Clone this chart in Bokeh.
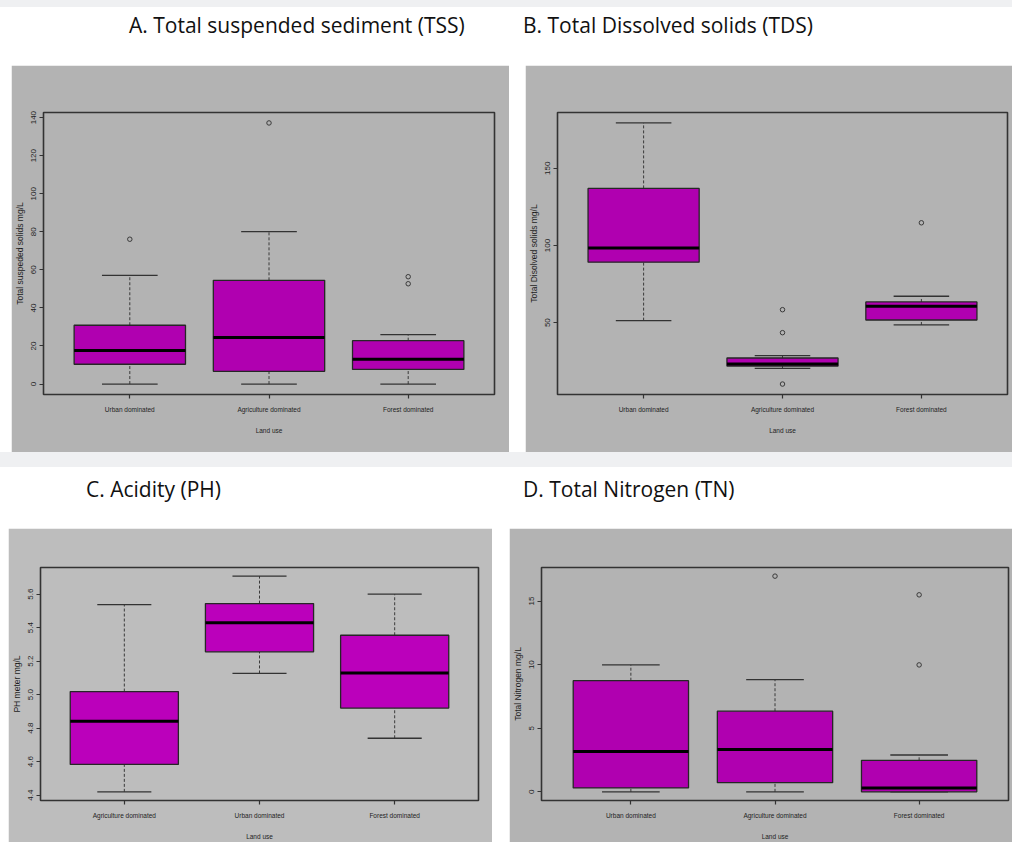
from bokeh.plotting import figure
from bokeh.models import Range1d, FixedTicker, Div, Spacer, PrintfTickFormatter
from bokeh.layouts import column, row
from bokeh.embed import file_html
from bokeh.resources import INLINE

# ---------------- data ----------------
A_title = "A. Total suspended sediment (TSS)"
A_cats = ["Urban dominated", "Agriculture dominated", "Forest dominated"]
A_low = [0.0, 0.0, 0.0]
A_q1 = [10.4, 6.7, 7.7]
A_med = [17.6, 24.4, 13.0]
A_q3 = [30.9, 54.5, 22.8]
A_high = [57.1, 80.1, 26.0]
A_out_cat = ["Urban dominated", "Agriculture dominated", "Forest dominated", "Forest dominated"]
A_out_val = [76.1, 137.2, 56.4, 52.7]
A_yticks = [0, 20, 40, 60, 80, 100, 120, 140]
A_ylabel = "Total suspeded solids mg/L"

B_title = "B. Total Dissolved solids (TDS)"
B_cats = ["Urban dominated", "Agriculture dominated", "Forest dominated"]
B_low = [51.3, 20.3, 48.5]
B_q1 = [89.2, 21.9, 51.7]
B_med = [98.3, 23.2, 60.6]
B_q3 = [137.0, 27.1, 63.4]
B_high = [179.4, 28.6, 67.1]
B_out_cat = ["Agriculture dominated", "Agriculture dominated", "Agriculture dominated", "Forest dominated"]
B_out_val = [58.4, 43.5, 10.2, 114.7]
B_yticks = [50, 100, 150]
B_ylabel = "Total Disolved solids mg/L"

C_title = "C. Acidity (PH)"
C_cats = ["Agriculture dominated", "Urban dominated", "Forest dominated"]
C_low = [4.42, 5.127, 4.74]
C_q1 = [4.584, 5.256, 4.92]
C_med = [4.841, 5.43, 5.129]
C_q3 = [5.019, 5.544, 5.355]
C_high = [5.538, 5.708, 5.60]
C_out_cat = []
C_out_val = []
C_yticks = [4.4, 4.6, 4.8, 5.0, 5.2, 5.4, 5.6]
C_ylabel = "PH meter mg/L"

D_title = "D. Total Nitrogen (TN)"
D_cats = ["Urban dominated", "Agriculture dominated", "Forest dominated"]
D_low = [0.0, 0.0, 0.0]
D_q1 = [0.31, 0.72, 0.0]
D_med = [3.18, 3.34, 0.31]
D_q3 = [8.74, 6.34, 2.48]
D_high = [9.98, 8.82, 2.90]
D_out_cat = ["Agriculture dominated", "Forest dominated", "Forest dominated"]
D_out_val = [16.96, 15.49, 9.98]
D_yticks = [0, 5, 10, 15]
D_ylabel = "Total Nitrogen mg/L"

XLABEL = "Land use"

# ---------------- styles ----------------
DARK = "#262626"
FRAME = "#333333"
PAGE = "#eff0f2"
SANS = "Liberation Sans"


def panel(cats, low, q1, med, q3, high, out_cat, out_val, yticks, ylabel,
          w, h, bl, br, bt, bb, bg, fill, yfmt="%d"):
    n = len(cats)
    pos = list(range(1, n + 1))
    where = dict(zip(cats, pos))
    lo = min(low + out_val)
    hi = max(high + out_val)
    ypad = (hi - lo) * 0.04
    xpad = n * 0.04
    p = figure(width=w, height=h,
               x_range=Range1d(0.5 - xpad, n + 0.5 + xpad),
               y_range=Range1d(lo - ypad, hi + ypad),
               output_backend="svg", toolbar_location=None,
               min_border_left=bl, min_border_right=br,
               min_border_top=bt, min_border_bottom=bb)
    p.background_fill_color = bg
    p.border_fill_color = bg
    p.outline_line_color = FRAME
    p.outline_line_width = 1.6
    p.xgrid.visible = False
    p.ygrid.visible = False

    # whiskers
    p.segment(x0=pos, x1=pos, y0=q3, y1=high, line_color="#3a3a3a",
              line_width=1, line_dash="3 2")
    p.segment(x0=pos, x1=pos, y0=low, y1=q1, line_color="#3a3a3a",
              line_width=1, line_dash="3 2")
    # caps
    cx0 = [x - 0.2 for x in pos]
    cx1 = [x + 0.2 for x in pos]
    p.segment(x0=cx0, x1=cx1, y0=high, y1=high, line_color=FRAME, line_width=1.3)
    p.segment(x0=cx0, x1=cx1, y0=low, y1=low, line_color=FRAME, line_width=1.3)
    # boxes
    p.vbar(x=pos, width=0.8, bottom=q1, top=q3, fill_color=fill,
           line_color=DARK, line_width=1.3)
    # medians
    mx0 = [x - 0.4 for x in pos]
    mx1 = [x + 0.4 for x in pos]
    p.segment(x0=mx0, x1=mx1, y0=med, y1=med, line_color="#000000", line_width=3)
    # outliers
    if out_val:
        p.scatter(x=[where[c] for c in out_cat], y=out_val, marker="circle",
                  size=4.5, fill_color=None, line_color="#3a3a3a", line_width=1)

    for ax in (p.xaxis[0], p.yaxis[0]):
        ax.axis_line_color = None
        ax.major_tick_line_color = FRAME
        ax.major_tick_line_width = 1.2
        ax.major_tick_out = 4
        ax.major_tick_in = 0
        ax.minor_tick_line_color = None
        ax.major_label_text_color = "#1e1e1e"
        ax.axis_label_text_color = "#1e1e1e"
        ax.axis_label_text_font_style = "normal"

    xa = p.xaxis[0]
    xa.ticker = FixedTicker(ticks=pos)
    xa.major_label_overrides = {x: c for x, c in zip(pos, cats)}
    xa.major_label_text_font = SANS
    xa.major_label_text_font_size = "6.5px"
    xa.major_label_standoff = 7
    xa.axis_label = XLABEL
    xa.axis_label_text_font = SANS
    xa.axis_label_text_font_size = "6.5px"
    xa.axis_label_standoff = 11

    ya = p.yaxis[0]
    ya.ticker = FixedTicker(ticks=yticks)
    ya.formatter = PrintfTickFormatter(format=yfmt)
    ya.major_label_orientation = "vertical"
    ya.major_label_text_font = SANS
    ya.major_label_text_font_size = "8px"
    ya.major_label_standoff = 3
    ya.axis_label = ylabel
    ya.axis_label_text_font = SANS
    ya.axis_label_text_font_size = "8.5px"
    ya.axis_label_standoff = 4
    return p


pA = panel(A_cats, A_low, A_q1, A_med, A_q3, A_high, A_out_cat, A_out_val,
           A_yticks, A_ylabel, 498, 387, 29, 15, 47, 58, "#b3b3b3", "#b000b0")
pB = panel(B_cats, B_low, B_q1, B_med, B_q3, B_high, B_out_cat, B_out_val,
           B_yticks, B_ylabel, 487, 387, 29, 5, 46, 58, "#b3b3b3", "#b000b0")
pC = panel(C_cats, C_low, C_q1, C_med, C_q3, C_high, C_out_cat, C_out_val,
           C_yticks, C_ylabel, 484, 314, 28, 14, 39, 40, "#bdbdbd", "#bb00bb",
           yfmt="%.1f")
pD = panel(D_cats, D_low, D_q1, D_med, D_q3, D_high, D_out_cat, D_out_val,
           D_yticks, D_ylabel, 503, 314, 30, 4, 36, 40, "#b3b3b3", "#b000b0")


def title_div(text, w, h, left, top):
    html = ('<div style="font-family:\'Open Sans\';font-size:21px;color:#111;'
            'white-space:nowrap;padding-left:%dpx;padding-top:%dpx;">%s</div>'
            % (left, top, text))
    return Div(text=html, width=w, height=h,
               styles={"background-color": "#ffffff", "margin": "0"})


def strip(w, h):
    return Div(text="", width=w, height=h,
               styles={"background-color": PAGE, "margin": "0"})


tA = title_div(A_title, 509, 58, 129, 3)
tB = title_div(B_title, 503, 58, 14, 3)
tC = title_div(C_title, 509, 61, 86, 7)
tD = title_div(D_title, 503, 61, 14, 7)

layout = column(
    strip(1012, 7),
    row(tA, tB, spacing=0),
    row(Spacer(width=11, height=387), pA, Spacer(width=16, height=387), pB, spacing=0),
    strip(1012, 15),
    row(tC, tD, spacing=0),
    row(Spacer(width=8, height=314), pC, Spacer(width=17, height=314), pD, spacing=0),
    spacing=0,
)

open("out.html", "w").write(file_html(layout, INLINE))
